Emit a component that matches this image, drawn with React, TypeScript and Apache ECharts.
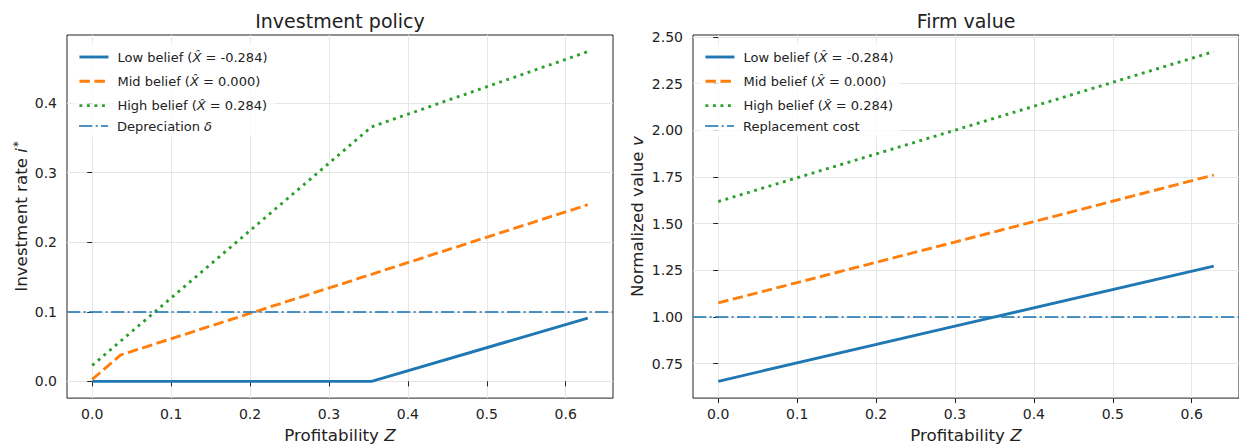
import React, { useEffect, useRef } from 'react';
import * as echarts from 'echarts';

// ---- data ----
const zInvest = [0, 0.036, 0.354, 0.628];
const lowInvest = [0, 0, 0, 0.091];
const midInvest = [0.003, 0.038, 0.154, 0.254];
const highInvest = [0.023, 0.058, 0.366, 0.474];

const zValue = [0, 0.3, 0.628];
const lowValue = [0.655, 0.951, 1.272];
const midValue = [1.075, 1.401, 1.76];
const highValue = [1.618, 2.0, 2.421];

const depreciation = 0.1;
const replacementCost = 1.0;

const xTicks = [0, 0.1, 0.2, 0.3, 0.4, 0.5, 0.6];
const investTicks = [0, 0.1, 0.2, 0.3, 0.4];
const valueTicks = [0.75, 1.0, 1.25, 1.5, 1.75, 2.0, 2.25, 2.5];

const legendLabels: Record<string, string> = {
  lowL: '{n|Low belief (}{i|X\u0302}{n| = -0.284)}',
  midL: '{n|Mid belief (}{i|X\u0302}{n| = 0.000)}',
  highL: '{n|High belief (}{i|X\u0302}{n| = 0.284)}',
  depL: '{n|Depreciation }{i|\u03b4}',
  lowR: '{n|Low belief (}{i|X\u0302}{n| = -0.284)}',
  midR: '{n|Mid belief (}{i|X\u0302}{n| = 0.000)}',
  highR: '{n|High belief (}{i|X\u0302}{n| = 0.284)}',
  repR: '{n|Replacement cost}',
};

const FONT = 'DejaVu Sans';
const TXT = '#222222';
const BLUE = '#1f77b4';
const ORANGE = '#ff7f0e';
const GREEN = '#2ca02c';
const LW = 2.9;

const lowStyle = { color: BLUE, width: LW, type: 'solid' };
const midStyle = { color: ORANGE, width: LW, type: [10.5, 4.5] };
const highStyle = { color: GREEN, width: LW, type: [2.9, 4.6] };
const refStyle = { color: BLUE, width: 2.1, type: [13.3, 3.3, 2.1, 3.3], opacity: 0.8 };

const pairs = (xs: number[], ys: number[]) => xs.map((x, i) => [x, ys[i]]);

function lineSeries(name: string, gi: number, data: number[][], st: any) {
  return {
    type: 'line', name, xAxisIndex: gi, yAxisIndex: gi, data,
    symbol: 'none', showSymbol: false, lineStyle: st, itemStyle: { color: st.color },
    emphasis: { disabled: true }, silent: true, z: 3,
  };
}

function refSeries(name: string, gi: number, value: number) {
  return {
    type: 'line', name, xAxisIndex: gi, yAxisIndex: gi, data: [],
    symbol: 'none', lineStyle: refStyle, itemStyle: { color: BLUE }, silent: true, z: 4,
    markLine: {
      symbol: 'none', silent: true, label: { show: false }, lineStyle: refStyle,
      emphasis: { disabled: true }, data: [{ yAxis: value }], animation: false,
    },
  };
}

const tickLine = { color: TXT, width: 1 };
const splitStyle = { show: true, lineStyle: { color: '#e6e6e6', width: 1 } };
const NAME_FS = 16.7;
const nameRich = {
  n: { fontFamily: FONT, fontSize: NAME_FS, color: TXT },
  i: { fontFamily: FONT, fontSize: NAME_FS, color: TXT, fontStyle: 'italic' },
  s: { fontFamily: FONT, fontSize: 11.5, color: TXT, verticalAlign: 'top', padding: [0, 0, 4, 1] },
};

function xAxis(gi: number) {
  return {
    type: 'value', gridIndex: gi, min: -0.032, max: 0.66,
    name: '{n|Profitability }{i|Z}', nameLocation: 'middle', nameGap: 27,
    nameTextStyle: { rich: nameRich },
    axisLine: { show: false },
    axisTick: { show: true, inside: false, length: 5, lineStyle: tickLine, customValues: xTicks },
    axisLabel: {
      customValues: xTicks, margin: 9, color: TXT, fontSize: 14, fontFamily: FONT,
      formatter: (v: number) => v.toFixed(1),
    },
    splitLine: splitStyle,
  };
}

function yAxis(gi: number, min: number, max: number, ticks: number[], dec: number, name: string, gap: number) {
  return {
    type: 'value', gridIndex: gi, min, max,
    name, nameLocation: 'middle', nameGap: gap, nameRotate: 90,
    nameTextStyle: { rich: nameRich },
    axisLine: { show: false },
    axisTick: { show: true, inside: false, length: 5, lineStyle: tickLine, customValues: ticks },
    axisLabel: {
      customValues: ticks, margin: 10, color: TXT, fontSize: 14, fontFamily: FONT,
      formatter: (v: number) => v.toFixed(dec),
    },
    splitLine: splitStyle,
  };
}

const LEG_FS = 13;
const legendText = {
  fontFamily: FONT, fontSize: LEG_FS, color: TXT, lineHeight: 14, padding: [0, 0, 0, 4],
  rich: {
    n: { fontFamily: FONT, fontSize: LEG_FS, color: TXT },
    i: { fontFamily: FONT, fontSize: LEG_FS, color: TXT, fontStyle: 'italic' },
  },
};

function legend(names: string[], left: number, top: number, widths: number[]) {
  return {
    orient: 'vertical', left, top, padding: 0, itemWidth: 29, itemHeight: 14, itemGap: 10.3,
    selectedMode: false, z: 7, textStyle: legendText,
    formatter: (name: string) => legendLabels[name],
    data: names.map((n, i) => ({
      name: n,
      lineStyle: { width: widths[i] },
      itemStyle: { opacity: 0, color: 'rgba(0,0,0,0)', borderWidth: 0 },
    })),
  };
}

export default function App() {
  const ref = useRef<HTMLDivElement>(null);
  useEffect(() => {
    if (!ref.current) return;
    const chart = echarts.init(ref.current, undefined, { renderer: 'svg' });
    const gridCommon = { top: 35, height: 368, show: true, borderColor: '#222', borderWidth: 1, backgroundColor: 'transparent', containLabel: false };
    chart.setOption({
      animation: false,
      backgroundColor: '#ffffff',
      grid: [
        { ...gridCommon, left: 67, width: 546 },
        { ...gridCommon, left: 693, width: 547 },
      ],
      xAxis: [xAxis(0), xAxis(1)],
      yAxis: [
        yAxis(0, -0.024, 0.498, investTicks, 1, '{n|Investment rate }{i|i}{s|*}', 38),
        yAxis(1, 0.565, 2.51, valueTicks, 2, '{n|Normalized value }{i|v}', 48),
      ],
      legend: [
        legend(['lowL', 'midL', 'highL'], 78, 50, [LW, LW, LW]),
        legend(['depL'], 78, 119, [2.1]),
        legend(['lowR', 'midR', 'highR'], 704, 50, [LW, LW, LW]),
        legend(['repR'], 704, 119, [2.1]),
      ],
      graphic: [
        { type: 'rect', z: 6, silent: true, shape: { x: 73, y: 43, width: 202, height: 94 }, style: { fill: 'rgba(255,255,255,0.8)' } },
        { type: 'rect', z: 6, silent: true, shape: { x: 699, y: 43, width: 201, height: 94 }, style: { fill: 'rgba(255,255,255,0.8)' } },
        { type: 'text', z: 8, silent: true, style: { text: 'Investment policy', x: 340, y: 20.5, textAlign: 'center', textVerticalAlign: 'middle', fontFamily: FONT, fontSize: 19, fill: TXT } },
        { type: 'text', z: 8, silent: true, style: { text: 'Firm value', x: 966, y: 20.5, textAlign: 'center', textVerticalAlign: 'middle', fontFamily: FONT, fontSize: 19, fill: TXT } },
      ],
      series: [
        lineSeries('lowL', 0, pairs(zInvest, lowInvest), lowStyle),
        lineSeries('midL', 0, pairs(zInvest, midInvest), midStyle),
        lineSeries('highL', 0, pairs(zInvest, highInvest), highStyle),
        refSeries('depL', 0, depreciation),
        lineSeries('lowR', 1, pairs(zValue, lowValue), lowStyle),
        lineSeries('midR', 1, pairs(zValue, midValue), midStyle),
        lineSeries('highR', 1, pairs(zValue, highValue), highStyle),
        refSeries('repR', 1, replacementCost),
      ],
    });
    return () => chart.dispose();
  }, []);
  return (
    <div
      ref={ref}
      style={{ position: 'absolute', left: 0, top: 0, width: 1239, height: 448, overflow: 'hidden' }}
    />
  );
}
